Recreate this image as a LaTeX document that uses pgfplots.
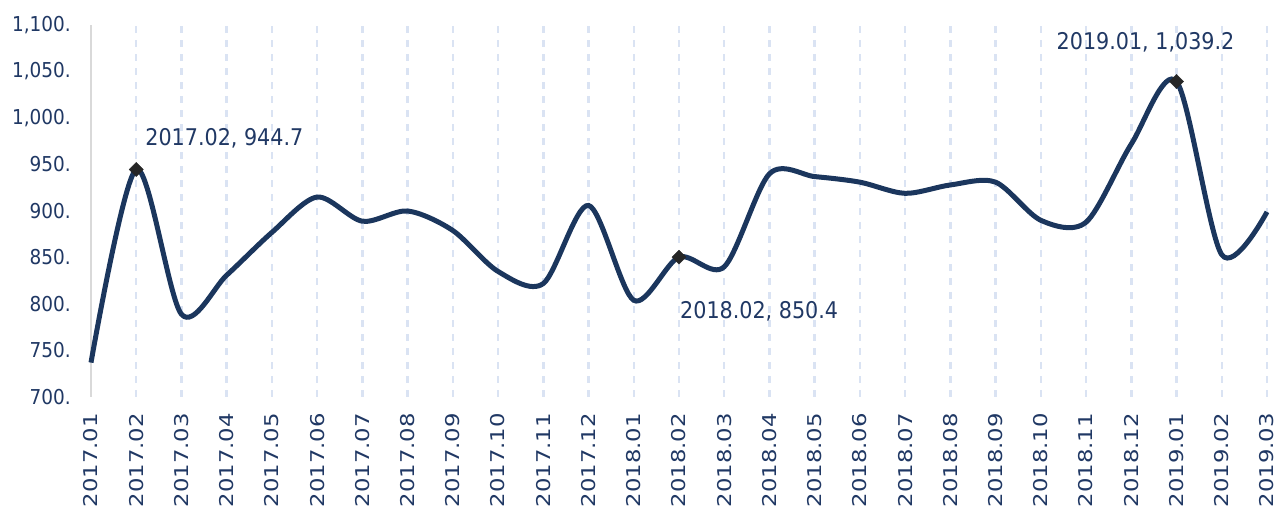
\documentclass[border=0pt]{standalone}
\usepackage{fontspec}
\setmainfont{DejaVu Sans Condensed}
\usepackage{graphicx}
\usepackage{pgfplots}
\pgfplotsset{compat=1.18}
\definecolor{txt}{HTML}{203864}
\definecolor{ln}{HTML}{1B365D}
\definecolor{grd}{HTML}{DAE3F3}
\definecolor{axc}{HTML}{D9D9D9}
\definecolor{mk}{HTML}{262626}
\newcommand\sx[1]{\scalebox{1.33}[1]{#1}}
\begin{document}
\begin{tikzpicture}
\useasboundingbox (-91pt,-111pt) rectangle (1188pt,397pt);
\begin{axis}[
  at={(0pt,0pt)}, anchor=origin,
  scale only axis, width=1176pt, height=372pt,
  xmin=0, xmax=26, ymin=700, ymax=1100,
  clip=false,
  axis lines=left,
  axis line style={-},
  x axis line style={draw=none},
  y axis line style={draw=axc, line width=2pt},
  major tick length=0pt,
  ytick={700,750,800,850,900,950,1000,1050,1100},
  yticklabels={700.,750.,800.,850.,900.,950.,{1,000.},{1,050.},{1,100.}},
  yticklabel style={font=\fontsize{20.5}{24}\selectfont, text=txt, anchor=east, inner sep=0pt, xshift=-20pt},
  xtick={0,...,26},
  xticklabels={\sx{2017.01},\sx{2017.02},\sx{2017.03},\sx{2017.04},\sx{2017.05},\sx{2017.06},\sx{2017.07},\sx{2017.08},\sx{2017.09},\sx{2017.10},\sx{2017.11},\sx{2017.12},\sx{2018.01},\sx{2018.02},\sx{2018.03},\sx{2018.04},\sx{2018.05},\sx{2018.06},\sx{2018.07},\sx{2018.08},\sx{2018.09},\sx{2018.10},\sx{2018.11},\sx{2018.12},\sx{2019.01},\sx{2019.02},\sx{2019.03}},
  xticklabel style={font=\fontsize{19}{23}\selectfont, text=txt, rotate=90, anchor=east, inner sep=0pt, xshift=-16pt},
  xmajorgrids=true,
  major grid style={draw=grd, line width=2.5pt, dash pattern=on 7pt off 7pt},
]
\addplot[ln, line width=5pt, smooth] coordinates {
(0,737) (1,944.7) (2,789) (3,831) (4,877) (5,915) (6,889) (7,900) (8,879) (9,835) (10,822) (11,906) (12,804) (13,850.4) (14,840) (15,940) (16,937) (17,931) (18,919) (19,928) (20,931) (21,890) (22,888) (23,972) (24,1039.2) (25,853) (26,899)
};
\addplot[only marks, mark=square*, mark size=5pt, mark options={rotate=45, fill=mk, draw=mk}] coordinates {
(1,944.7) (13,850.4) (24,1039.2)
};
\node[anchor=base west, inner sep=0pt, font=\fontsize{23}{27}\selectfont, text=txt, xshift=9pt, yshift=24pt] at (axis cs:1,944.7) {2017.02, 944.7};
\node[anchor=base west, inner sep=0pt, font=\fontsize{23}{27}\selectfont, text=txt, xshift=1pt, yshift=-61pt] at (axis cs:13,850.4) {2018.02, 850.4};
\node[anchor=base west, inner sep=0pt, font=\fontsize{23}{27}\selectfont, text=txt, xshift=-120pt, yshift=32pt] at (axis cs:24,1039.2) {2019.01, 1,039.2};
\end{axis}
\end{tikzpicture}
\end{document}
